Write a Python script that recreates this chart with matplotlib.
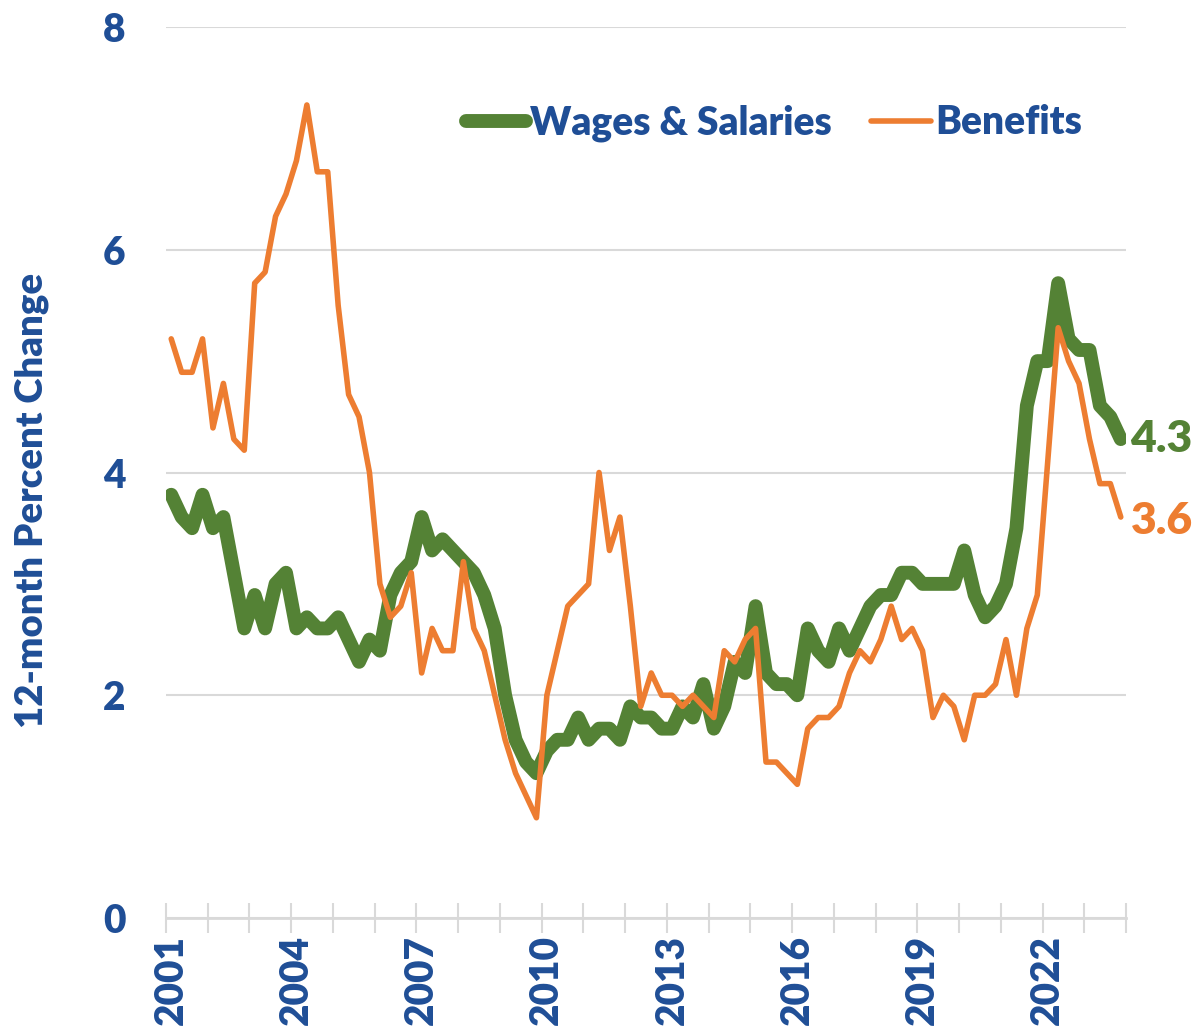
import numpy as np
import matplotlib.pyplot as plt

plt.rcParams['font.family'] = ['Lato', 'DejaVu Sans']
plt.rcParams['font.weight'] = 'heavy'

# quarterly, 2001 Q1 .. 2023 Q4, 12-month percent change
wages = [3.8, 3.6, 3.5, 3.8, 3.5, 3.6, 3.1, 2.6, 2.9, 2.6, 3.0, 3.1,
         2.6, 2.7, 2.6, 2.6, 2.7, 2.5, 2.3, 2.5, 2.4, 2.9, 3.1, 3.2,
         3.6, 3.3, 3.4, 3.3, 3.2, 3.1, 2.9, 2.6, 2.0, 1.6, 1.4, 1.3,
         1.5, 1.6, 1.6, 1.8, 1.6, 1.7, 1.7, 1.6, 1.9, 1.8, 1.8, 1.7,
         1.7, 1.9, 1.8, 2.1, 1.7, 1.9, 2.3, 2.2, 2.8, 2.2, 2.1, 2.1,
         2.0, 2.6, 2.4, 2.3, 2.6, 2.4, 2.6, 2.8, 2.9, 2.9, 3.1, 3.1,
         3.0, 3.0, 3.0, 3.0, 3.3, 2.9, 2.7, 2.8, 3.0, 3.5, 4.6, 5.0,
         5.0, 5.7, 5.2, 5.1, 5.1, 4.6, 4.5, 4.3]
benefits = [5.2, 4.9, 4.9, 5.2, 4.4, 4.8, 4.3, 4.2, 5.7, 5.8, 6.3, 6.5,
            6.8, 7.3, 6.7, 6.7, 5.5, 4.7, 4.5, 4.0, 3.0, 2.7, 2.8, 3.1,
            2.2, 2.6, 2.4, 2.4, 3.2, 2.6, 2.4, 2.0, 1.6, 1.3, 1.1, 0.9,
            2.0, 2.4, 2.8, 2.9, 3.0, 4.0, 3.3, 3.6, 2.8, 1.9, 2.2, 2.0,
            2.0, 1.9, 2.0, 1.9, 1.8, 2.4, 2.3, 2.5, 2.6, 1.4, 1.4, 1.3,
            1.2, 1.7, 1.8, 1.8, 1.9, 2.2, 2.4, 2.3, 2.5, 2.8, 2.5, 2.6,
            2.4, 1.8, 2.0, 1.9, 1.6, 2.0, 2.0, 2.1, 2.5, 2.0, 2.6, 2.9,
            4.1, 5.3, 5.0, 4.8, 4.3, 3.9, 3.9, 3.6]
years = list(range(2001, 2024))

blue = '#1F4E96'
green = '#548235'
orange = '#ED7D31'
grid = '#D9D9D9'

n = len(wages)
x = np.arange(n)

fig = plt.figure(figsize=(12.01, 10.33), dpi=100)
ax = fig.add_axes([166/1201, 1 - 918/1033, 960/1201, 891/1033])

ax.plot(x, wages, color=green, lw=10, solid_joinstyle='round', solid_capstyle='round',
        label='Wages & Salaries', zorder=3)
ax.plot(x, benefits, color=orange, lw=4, solid_joinstyle='round', solid_capstyle='round',
        label='Benefits', zorder=4)

ax.set_xlim(-0.5, n - 0.5)
ax.set_ylim(0, 8)
ax.set_yticks([0, 2, 4, 6, 8])
ax.grid(axis='y', color=grid, lw=1.5)
ax.set_axisbelow(True)
for s in ['left', 'right', 'top']:
    ax.spines[s].set_visible(False)
ax.spines['bottom'].set_color(grid)
ax.spines['bottom'].set_linewidth(2)

# ticks every year (between categories), labels every 3 years centred on Q1
ax.set_xticks(np.arange(-0.5, n, 4))
ax.set_xticklabels([])
ax.set_xticks(np.arange(0, n, 12), minor=True)
ax.set_xticklabels([str(y) for y in years[::3]], minor=True, rotation=90)
ax.tick_params(axis='x', which='major', direction='inout', length=22, width=1.5, color=grid)
ax.tick_params(axis='x', which='minor', length=0, pad=12, labelsize=28, labelcolor=blue)
ax.tick_params(axis='y', length=0, pad=29, labelsize=28, labelcolor=blue)

fig.text(32/1201, 1 - 500/1033, '12-month Percent Change', rotation=90,
         ha='center', va='center', fontsize=27.5, color=blue)

leg = ax.legend(loc='center left', bbox_to_anchor=(466/1201, 1 - 123/1033),
                bbox_transform=fig.transFigure, ncol=2, frameon=False,
                fontsize=28, handlelength=1.55, handletextpad=0.1,
                columnspacing=1.0, borderpad=0, borderaxespad=0)
for t in leg.get_texts():
    t.set_color(blue)

ax.annotate(f'{wages[-1]}', xy=(n - 1, wages[-1]), xytext=(7, 0),
            textcoords='offset points', va='center', ha='left',
            fontsize=32, color=green, annotation_clip=False)
ax.annotate(f'{benefits[-1]}', xy=(n - 1, benefits[-1]), xytext=(7, -3),
            textcoords='offset points', va='center', ha='left',
            fontsize=32, color=orange, annotation_clip=False)

fig.savefig('out.png', dpi=100)
